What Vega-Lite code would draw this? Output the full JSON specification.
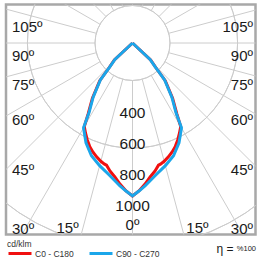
{
  "$schema": "https://vega.github.io/schema/vega-lite/v6.json",
  "width": 249.5,
  "height": 230,
  "autosize": "none",
  "padding": {"left": 6, "top": 4.5, "right": 1.5, "bottom": 27.5},
  "config": {
    "view": {"stroke": "#a8a8a8", "strokeWidth": 2.5},
    "font": "Liberation Sans"
  },
  "datasets": {
    "rings": [
      {"ring": 242}, {"ring": 436, "lab": "400"}, {"ring": 639, "lab": "600"},
      {"ring": 836, "lab": "800"}, {"ring": 1039, "lab": "1000"}, {"ring": 1240}, {"ring": 1440}
    ],
    "spokes": [
      {"a": 0}, {"a": 15}, {"a": 30}, {"a": 45}, {"a": 60}, {"a": 75}, {"a": 90}, {"a": 105},
      {"a": 120}, {"a": 135}, {"a": 150}, {"a": 165}, {"a": 180},
      {"a": -15}, {"a": -30}, {"a": -45}, {"a": -60}, {"a": -75}, {"a": -90}, {"a": -105},
      {"a": -120}, {"a": -135}, {"a": -150}, {"a": -165}
    ],
    "curves": [
      {"s": "C0 - C180", "a": -50, "I": 0},
      {"s": "C0 - C180", "a": -47, "I": 160},
      {"s": "C0 - C180", "a": -43.5, "I": 218},
      {"s": "C0 - C180", "a": -41, "I": 322},
      {"s": "C0 - C180", "a": -36, "I": 440},
      {"s": "C0 - C180", "a": -32, "I": 540},
      {"s": "C0 - C180", "a": -30, "I": 622},
      {"s": "C0 - C180", "a": -27.5, "I": 656},
      {"s": "C0 - C180", "a": -25, "I": 690},
      {"s": "C0 - C180", "a": -22.5, "I": 722},
      {"s": "C0 - C180", "a": -20, "I": 748},
      {"s": "C0 - C180", "a": -17.5, "I": 770},
      {"s": "C0 - C180", "a": -15, "I": 790},
      {"s": "C0 - C180", "a": -13, "I": 802},
      {"s": "C0 - C180", "a": -12, "I": 806},
      {"s": "C0 - C180", "a": -10, "I": 838},
      {"s": "C0 - C180", "a": -7.5, "I": 872},
      {"s": "C0 - C180", "a": -5, "I": 915},
      {"s": "C0 - C180", "a": -2.5, "I": 955},
      {"s": "C0 - C180", "a": 0, "I": 987},
      {"s": "C0 - C180", "a": 2.5, "I": 955},
      {"s": "C0 - C180", "a": 5, "I": 915},
      {"s": "C0 - C180", "a": 7.5, "I": 872},
      {"s": "C0 - C180", "a": 10, "I": 838},
      {"s": "C0 - C180", "a": 12, "I": 806},
      {"s": "C0 - C180", "a": 13, "I": 802},
      {"s": "C0 - C180", "a": 15, "I": 790},
      {"s": "C0 - C180", "a": 17.5, "I": 770},
      {"s": "C0 - C180", "a": 20, "I": 748},
      {"s": "C0 - C180", "a": 22.5, "I": 722},
      {"s": "C0 - C180", "a": 25, "I": 690},
      {"s": "C0 - C180", "a": 27.5, "I": 656},
      {"s": "C0 - C180", "a": 30, "I": 622},
      {"s": "C0 - C180", "a": 32, "I": 540},
      {"s": "C0 - C180", "a": 36, "I": 440},
      {"s": "C0 - C180", "a": 41, "I": 322},
      {"s": "C0 - C180", "a": 43.5, "I": 218},
      {"s": "C0 - C180", "a": 47, "I": 160},
      {"s": "C0 - C180", "a": 50, "I": 0},
      {"s": "C90 - C270", "a": -50, "I": 0},
      {"s": "C90 - C270", "a": -47, "I": 155},
      {"s": "C90 - C270", "a": -43.5, "I": 213},
      {"s": "C90 - C270", "a": -41, "I": 316},
      {"s": "C90 - C270", "a": -36, "I": 432},
      {"s": "C90 - C270", "a": -32, "I": 529},
      {"s": "C90 - C270", "a": -30, "I": 632},
      {"s": "C90 - C270", "a": -25, "I": 710},
      {"s": "C90 - C270", "a": -20, "I": 774},
      {"s": "C90 - C270", "a": -15, "I": 819},
      {"s": "C90 - C270", "a": -10, "I": 865},
      {"s": "C90 - C270", "a": -5, "I": 926},
      {"s": "C90 - C270", "a": -2.5, "I": 956},
      {"s": "C90 - C270", "a": 0, "I": 987},
      {"s": "C90 - C270", "a": 2.5, "I": 956},
      {"s": "C90 - C270", "a": 5, "I": 926},
      {"s": "C90 - C270", "a": 10, "I": 865},
      {"s": "C90 - C270", "a": 15, "I": 819},
      {"s": "C90 - C270", "a": 20, "I": 774},
      {"s": "C90 - C270", "a": 25, "I": 710},
      {"s": "C90 - C270", "a": 30, "I": 632},
      {"s": "C90 - C270", "a": 32, "I": 529},
      {"s": "C90 - C270", "a": 36, "I": 432},
      {"s": "C90 - C270", "a": 41, "I": 316},
      {"s": "C90 - C270", "a": 43.5, "I": 213},
      {"s": "C90 - C270", "a": 47, "I": 155},
      {"s": "C90 - C270", "a": 50, "I": 0}
    ],
    "angles": [
      {"t": "105º", "g": 105, "side": -1}, {"t": "90º", "g": 90, "side": -1},
      {"t": "75º", "g": 75, "side": -1}, {"t": "60º", "g": 60, "side": -1},
      {"t": "45º", "g": 45, "side": -1}, {"t": "30º", "g": 30, "side": -1},
      {"t": "105º", "g": 105, "side": 1}, {"t": "90º", "g": 90, "side": 1},
      {"t": "75º", "g": 75, "side": 1}, {"t": "60º", "g": 60, "side": 1},
      {"t": "45º", "g": 45, "side": 1}, {"t": "30º", "g": 30, "side": 1},
      {"t": "15º", "g": 15, "side": -1}, {"t": "0º", "g": 0, "side": 0}, {"t": "15º", "g": 15, "side": 1}
    ],
    "eta": [{"t": "η =", "part": "sym"}, {"t": "%100", "part": "val"}]
  },
  "layer": [
    {
      "data": {"name": "rings"},
      "mark": {"type": "arc", "fill": null, "filled": false, "stroke": "#cccccc", "strokeWidth": 1, "theta": 0, "theta2": 6.2832, "clip": true},
      "encoding": {
        "x": {"datum": 0, "type": "quantitative", "scale": {"domain": [-816.1, 793.5], "nice": false, "zero": false}, "axis": null},
        "y": {"datum": 0, "type": "quantitative", "scale": {"domain": [-1235.5, 248.4], "nice": false, "zero": false}, "axis": null},
        "radius": {"field": "ring", "type": "quantitative", "scale": {"type": "linear", "domain": [0, 1000], "range": [0, 155], "zero": true}}
      }
    },
    {
      "data": {"name": "spokes"},
      "transform": [
        {"calculate": "242*sin(datum.a*PI/180)", "as": "x1"},
        {"calculate": "-242*cos(datum.a*PI/180)", "as": "y1"},
        {"calculate": "3000*sin(datum.a*PI/180)", "as": "x2"},
        {"calculate": "-3000*cos(datum.a*PI/180)", "as": "y2"}
      ],
      "mark": {"type": "rule", "stroke": "#cccccc", "strokeWidth": 1, "clip": true},
      "encoding": {
        "x": {"field": "x1", "type": "quantitative"},
        "y": {"field": "y1", "type": "quantitative"},
        "x2": {"field": "x2"},
        "y2": {"field": "y2"}
      }
    },
    {
      "data": {"name": "curves"},
      "transform": [
        {"calculate": "datum.I*sin(datum.a*PI/180)", "as": "px"},
        {"calculate": "-datum.I*cos(datum.a*PI/180)", "as": "py"}
      ],
      "mark": {"type": "line", "strokeWidth": 3, "clip": true, "strokeJoin": "miter"},
      "encoding": {
        "x": {"field": "px", "type": "quantitative"},
        "y": {"field": "py", "type": "quantitative"},
        "order": {"field": "a", "type": "quantitative"},
        "color": {
          "field": "s", "type": "nominal",
          "scale": {"domain": ["C0 - C180", "C90 - C270"], "range": ["#f01010", "#1ba6ea"]},
          "legend": {
            "title": "cd/klm", "orient": "none", "legendX": 1, "legendY": 235, "direction": "horizontal",
            "titleOrient": "top", "titleFontSize": 8.5, "titleFontWeight": "normal", "titleColor": "#333333", "titlePadding": -7.5,
            "symbolType": "stroke", "symbolStrokeWidth": 3, "symbolSize": 529, "labelFontSize": 8.5, "labelColor": "#333333",
            "labelOffset": 2, "columnPadding": 9, "padding": 0
          }
        }
      }
    },
    {
      "data": {"name": "rings"},
      "transform": [{"filter": "datum.lab"}, {"calculate": "-datum.ring", "as": "ly"}],
      "mark": {"type": "text", "align": "center", "baseline": "middle", "fontSize": 15.5, "color": "#1a1a1a", "dy": 2},
      "encoding": {
        "x": {"datum": 0, "type": "quantitative"},
        "y": {"field": "ly", "type": "quantitative"},
        "text": {"field": "lab"}
      }
    },
    {
      "data": {"name": "angles"},
      "transform": [
        {"filter": "datum.g >= 30 && datum.side == -1"},
        {"calculate": "datum.g == 30 ? -1187 : -(108/tan((datum.g-3)*PI/180) + 5)/0.155", "as": "ly"},
        {"calculate": "-777.4", "as": "lx"}
      ],
      "mark": {"type": "text", "align": "left", "baseline": "middle", "fontSize": 15, "color": "#1a1a1a", "dy": 2},
      "encoding": {
        "x": {"field": "lx", "type": "quantitative"},
        "y": {"field": "ly", "type": "quantitative"},
        "text": {"field": "t"}
      }
    },
    {
      "data": {"name": "angles"},
      "transform": [
        {"filter": "datum.g >= 30 && datum.side == 1"},
        {"calculate": "datum.g == 30 ? -1187 : -(108/tan((datum.g-3)*PI/180) + 5)/0.155", "as": "ly"},
        {"calculate": "777.4", "as": "lx"}
      ],
      "mark": {"type": "text", "align": "right", "baseline": "middle", "fontSize": 15, "color": "#1a1a1a", "dy": 2},
      "encoding": {
        "x": {"field": "lx", "type": "quantitative"},
        "y": {"field": "ly", "type": "quantitative"},
        "text": {"field": "t"}
      }
    },
    {
      "data": {"name": "angles"},
      "transform": [
        {"filter": "datum.g < 30"},
        {"calculate": "datum.g == 0 ? -1165 : -1187", "as": "ly"},
        {"calculate": "datum.side * 419", "as": "lx"}
      ],
      "mark": {"type": "text", "align": "center", "baseline": "middle", "fontSize": 15, "color": "#1a1a1a", "dy": 1},
      "encoding": {
        "x": {"field": "lx", "type": "quantitative"},
        "y": {"field": "ly", "type": "quantitative"},
        "text": {"field": "t"}
      }
    },
    {
      "data": {"name": "eta"},
      "transform": [{"filter": "datum.part == 'sym'"}],
      "mark": {"type": "text", "align": "right", "baseline": "alphabetic", "fontSize": 12, "color": "#1a1a1a", "dy": 18, "dx": -22},
      "encoding": {
        "x": {"datum": 793.5, "type": "quantitative"},
        "y": {"datum": -1235.5, "type": "quantitative"},
        "text": {"field": "t"}
      }
    },
    {
      "data": {"name": "eta"},
      "transform": [{"filter": "datum.part == 'val'"}],
      "mark": {"type": "text", "align": "right", "baseline": "alphabetic", "fontSize": 7.5, "color": "#1a1a1a", "dy": 16.5, "dx": 0.5},
      "encoding": {
        "x": {"datum": 793.5, "type": "quantitative"},
        "y": {"datum": -1235.5, "type": "quantitative"},
        "text": {"field": "t"}
      }
    }
  ]
}
